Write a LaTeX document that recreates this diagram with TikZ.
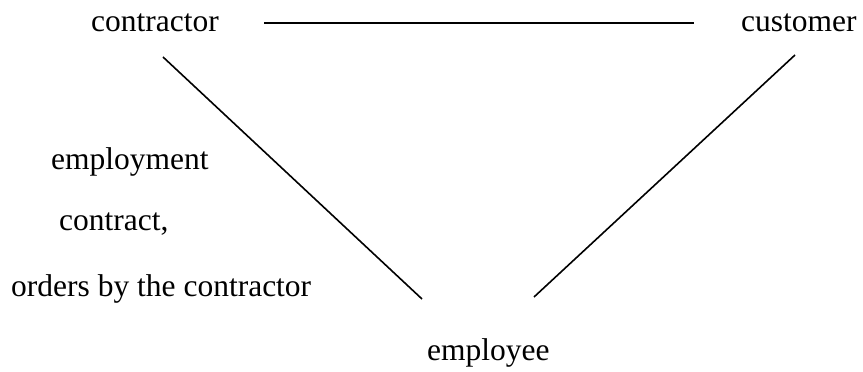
\documentclass[tikz,border=0pt]{standalone}
\usepackage{fontspec}
\setmainfont{Liberation Serif}
\newfontfamily\tnr{Liberation Serif}
\begin{document}
\begin{tikzpicture}[x=1pt,y=1pt,
  lbl/.style={anchor=base west,inner sep=0pt,font=\tnr\fontsize{31.5}{36}\selectfont},
  conn/.style={line width=1.6pt}]
\useasboundingbox (0,0) rectangle (863,372);
\node[lbl] (contractor) at (91,340) {contractor};
\node[lbl] (customer) at (741,340) {customer};
\node[lbl] (employee) at (427,11) {employee};
\node[lbl] (l1) at (51,202) {employment};
\node[lbl] (l2) at (59,141) {contract,};
\node[lbl] (l3) at (11,75) {orders by the contractor};
\coordinate (h1) at (264,349);
\coordinate (h2) at (694,349);
\coordinate (a1) at (163,315);
\coordinate (a2) at (422,73);
\coordinate (b1) at (795,317);
\coordinate (b2) at (534,75);
\draw[conn] (h1) -- (h2);
\draw[conn] (a1) -- (a2);
\draw[conn] (b1) -- (b2);
\end{tikzpicture}
\end{document}
